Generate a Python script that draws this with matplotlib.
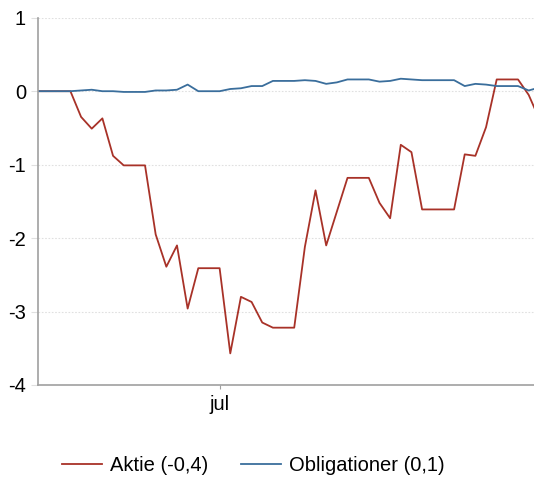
import matplotlib.pyplot as plt
from matplotlib.ticker import FuncFormatter

plt.rcParams['font.family'] = ['Liberation Sans', 'DejaVu Sans']

# daily observations, index 17 is the start of july
aktie = [0, 0, 0, 0, -0.35, -0.51, -0.37, -0.88, -1.01, -1.01, -1.01, -1.95,
         -2.39, -2.1, -2.96, -2.41, -2.41, -2.41, -3.57, -2.8, -2.87, -3.15,
         -3.22, -3.22, -3.22, -2.12, -1.35, -2.1, -1.64, -1.18, -1.18, -1.18,
         -1.52, -1.73, -0.73, -0.83, -1.61, -1.61, -1.61, -1.61, -0.86, -0.88,
         -0.49, 0.16, 0.16, 0.16, -0.05, -0.38]
obligationer = [0, 0, 0, 0, 0.01, 0.02, 0, 0, -0.01, -0.01, -0.01, 0.01,
                0.01, 0.02, 0.09, 0, 0, 0, 0.03, 0.04, 0.07, 0.07, 0.14, 0.14,
                0.14, 0.15, 0.14, 0.1, 0.12, 0.16, 0.16, 0.16, 0.13, 0.14, 0.17,
                0.16, 0.15, 0.15, 0.15, 0.15, 0.07, 0.1, 0.09, 0.07, 0.07, 0.07,
                0.01, 0.05]
labels = ["Aktie (-0,4)", "Obligationer (0,1)"]
month_pos = [17]
month_names = ["jul"]

days = list(range(len(aktie)))

fig = plt.figure(figsize=(5.34, 4.8), dpi=100)
ax = fig.add_axes([0.072, 0.198, 0.928, 0.765])

ax.plot(days, aktie, color="#a83228", lw=1.3, label=labels[0])
ax.plot(days, obligationer, color="#3a6e9c", lw=1.3, label=labels[1])

ax.set_xlim(0, 46.5)
ax.set_ylim(-4, 1)
ax.set_yticks(range(-4, 2))
ax.yaxis.set_major_formatter(FuncFormatter(lambda v, p: f"{v:.0f}"))
ax.set_xticks(month_pos)
ax.set_xticklabels(month_names)

ax.grid(axis="y", color="#e0e0e0", ls=(0, (1.5, 1.5)), lw=0.8)
ax.set_axisbelow(True)
for s in ["top", "right"]:
    ax.spines[s].set_visible(False)
for s in ["left", "bottom"]:
    ax.spines[s].set_color("#a0a0a0")
    ax.spines[s].set_linewidth(1.2)
ax.tick_params(axis="y", length=5, color="#e0e0e0", labelsize=14.5, pad=4)
ax.tick_params(axis="x", length=3, color="#a0a0a0", labelsize=14.5, pad=4)

fig.legend(loc="center", bbox_to_anchor=(0.474, 0.03), ncol=2, frameon=False,
           fontsize=14.5, handlelength=2.0, handletextpad=0.4,
           columnspacing=1.6)

fig.savefig("out.png", dpi=100)
